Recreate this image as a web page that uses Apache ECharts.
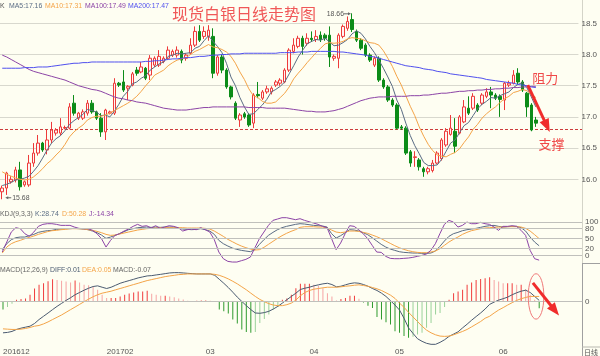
<!DOCTYPE html>
<html><head><meta charset="utf-8">
<script src="https://cdn.jsdelivr.net/npm/echarts@6/dist/echarts.min.js"></script>
<style>html,body{margin:0;padding:0;background:#fefef2;}#c{width:600px;height:356px;}</style>
</head><body><div id="c"></div>
<script>
// ---------- data ----------
const opens = [
15.80,15.86,15.96,15.99,16.15,15.91,15.91,16.26,16.42,16.58,
16.47,16.63,16.74,16.74,16.82,16.82,17.22,16.98,16.98,17.06,
17.22,17.08,16.98,16.76,17.06,17.06,17.54,17.56,17.46,17.51,
17.75,17.72,17.78,17.67,17.83,17.83,17.89,17.94,17.99,17.99,
18.05,17.94,18.02,18.15,18.37,18.29,18.29,18.29,17.70,17.96,
17.75,17.48,17.22,16.95,17.05,17.03,16.90,17.36,17.30,17.40,
17.40,17.51,17.54,17.56,17.75,18.05,18.13,18.26,18.18,18.26,
18.24,18.31,18.31,18.31,17.94,17.94,18.29,18.42,18.56,18.37,
18.23,18.15,17.99,17.83,17.94,17.59,17.48,17.27,17.19,16.84,
16.82,16.44,16.35,16.31,16.17,16.12,16.14,16.26,16.33,16.55,
16.72,16.77,16.74,16.92,17.14,17.14,17.19,17.22,17.33,17.40,
17.35,17.33,17.27,17.51,17.54,17.70,17.56,17.38,17.19,16.95];
const closes = [
15.86,16.10,16.00,16.15,15.88,15.96,16.26,16.42,16.58,16.47,
16.63,16.79,16.79,16.84,16.83,17.16,17.06,17.06,17.08,17.22,
17.08,16.98,16.76,17.11,17.08,17.54,17.51,17.43,17.49,17.69,
17.70,17.80,17.62,17.94,17.94,17.97,17.94,18.07,18.05,18.07,
17.91,17.99,18.15,18.37,18.23,18.37,18.39,17.70,17.96,17.75,
17.48,17.32,16.98,17.03,17.00,16.87,17.35,17.34,17.40,17.45,
17.46,17.56,17.59,17.75,18.07,18.15,18.26,18.13,18.26,18.24,
18.29,18.24,18.26,17.96,17.97,18.31,18.45,18.53,18.40,18.23,
18.10,17.99,17.91,17.94,17.59,17.48,17.27,17.19,16.82,16.82,
16.42,16.26,16.36,16.20,16.12,16.17,16.26,16.42,16.63,16.77,
16.82,16.53,17.00,17.16,17.06,17.33,17.11,17.35,17.40,17.35,
17.30,17.28,17.54,17.54,17.67,17.56,17.43,17.16,16.79,16.90];
const lows = [
15.68,15.75,15.93,15.95,15.82,15.88,15.88,16.20,16.38,16.44,
16.40,16.58,16.70,16.70,16.80,16.80,17.02,16.95,16.95,17.02,
17.05,16.95,16.68,16.63,17.04,17.03,17.48,17.40,17.27,17.49,
17.66,17.70,17.59,17.59,17.80,17.80,17.86,17.92,17.96,17.95,
17.86,17.90,18.00,18.12,18.20,18.25,18.22,17.62,17.66,17.70,
17.45,17.28,16.95,16.84,16.97,16.84,16.82,17.30,17.27,17.37,
17.36,17.48,17.50,17.54,17.72,18.02,18.10,18.00,18.14,18.20,
18.20,18.20,18.22,17.80,17.90,17.78,18.26,18.38,18.36,18.20,
18.07,17.96,17.88,17.80,17.56,17.45,17.24,17.16,16.80,16.79,
16.39,16.20,16.20,16.14,16.04,16.08,16.11,16.24,16.30,16.52,
16.70,16.42,16.72,16.90,17.03,17.11,17.08,17.19,17.30,17.14,
17.27,17.00,17.11,17.48,17.52,17.52,17.40,17.00,16.77,16.84];
const highs = [
15.90,16.12,16.05,16.20,16.28,15.98,16.39,16.58,16.71,16.60,
16.79,16.92,16.82,16.98,16.86,17.22,17.35,17.08,17.12,17.27,
17.27,17.10,17.06,17.13,17.10,17.62,17.56,17.75,17.51,17.72,
17.80,17.88,17.80,17.99,17.97,18.07,17.97,18.13,18.08,18.13,
18.08,18.02,18.26,18.45,18.47,18.45,18.47,18.42,17.99,18.00,
17.78,17.50,17.25,17.06,17.08,17.06,17.38,17.56,17.43,17.50,
17.49,17.59,17.62,17.78,18.10,18.26,18.30,18.30,18.34,18.37,
18.39,18.37,18.34,18.45,18.00,18.34,18.48,18.61,18.66,18.40,
18.26,18.18,18.02,17.97,17.97,17.62,17.51,17.30,17.22,16.87,
16.85,16.47,16.45,16.34,16.20,16.20,16.31,16.45,16.66,16.82,
17.03,16.98,17.03,17.27,17.33,17.38,17.22,17.38,17.46,17.48,
17.38,17.36,17.56,17.58,17.75,17.78,17.59,17.40,17.22,17.00];
const ma5 = [
15.90,15.92,15.95,15.99,16.00,16.02,16.05,16.13,16.22,16.34,
16.47,16.58,16.65,16.70,16.78,16.88,16.94,16.99,17.04,17.12,
17.10,17.08,17.02,17.03,17.00,17.09,17.20,17.33,17.41,17.53,
17.56,17.62,17.66,17.75,17.80,17.85,17.88,17.97,17.99,18.02,
18.01,18.02,18.03,18.10,18.13,18.22,18.30,18.21,18.13,18.03,
17.86,17.64,17.50,17.31,17.16,17.04,17.05,17.12,17.19,17.28,
17.40,17.44,17.49,17.56,17.69,17.82,17.96,18.07,18.17,18.21,
18.24,18.23,18.26,18.20,18.14,18.15,18.19,18.24,18.33,18.38,
18.34,18.25,18.13,18.03,17.91,17.78,17.64,17.49,17.27,17.12,
16.90,16.70,16.54,16.41,16.27,16.22,16.22,16.23,16.32,16.45,
16.58,16.63,16.75,16.86,16.91,17.02,17.13,17.20,17.25,17.31,
17.30,17.34,17.37,17.40,17.47,17.52,17.55,17.47,17.32,17.16];
const ma10 = [
16.12,16.08,16.05,16.02,16.00,15.99,16.00,16.04,16.10,16.17,
16.25,16.31,16.39,16.46,16.56,16.68,16.76,16.82,16.87,16.95,
16.99,17.01,17.01,17.03,17.06,17.10,17.14,17.18,17.22,17.27,
17.33,17.41,17.50,17.58,17.67,17.71,17.75,17.82,17.87,17.91,
17.93,17.95,18.00,18.05,18.08,18.12,18.16,18.12,18.11,18.08,
18.04,17.97,17.86,17.72,17.60,17.45,17.34,17.31,17.25,17.22,
17.22,17.24,17.31,17.38,17.48,17.61,17.70,17.78,17.87,17.95,
18.03,18.10,18.17,18.19,18.18,18.19,18.21,18.25,18.27,18.26,
18.25,18.22,18.19,18.18,18.15,18.06,17.94,17.81,17.65,17.51,
17.34,17.17,17.02,16.84,16.69,16.56,16.46,16.39,16.37,16.36,
16.40,16.43,16.49,16.59,16.68,16.80,16.88,16.98,17.05,17.11,
17.16,17.23,17.29,17.33,17.39,17.41,17.44,17.42,17.36,17.31];
const ma100 = [
17.99,17.96,17.92,17.88,17.84,17.80,17.76,17.73,17.71,17.69,
17.67,17.65,17.63,17.61,17.59,17.56,17.53,17.50,17.48,17.46,
17.44,17.43,17.41,17.38,17.35,17.32,17.30,17.29,17.27,17.26,
17.24,17.23,17.22,17.20,17.18,17.16,17.14,17.13,17.12,17.11,
17.11,17.11,17.12,17.13,17.14,17.15,17.15,17.16,17.16,17.16,
17.16,17.16,17.16,17.16,17.16,17.15,17.15,17.15,17.15,17.14,
17.14,17.14,17.14,17.14,17.13,17.12,17.11,17.10,17.09,17.09,
17.08,17.08,17.08,17.09,17.10,17.12,17.14,17.17,17.20,17.23,
17.26,17.28,17.30,17.31,17.32,17.32,17.32,17.33,17.33,17.33,
17.33,17.34,17.34,17.34,17.35,17.35,17.36,17.37,17.38,17.38,
17.39,17.40,17.41,17.41,17.42,17.42,17.43,17.43,17.44,17.44,
17.45,17.45,17.46,17.46,17.47,17.47,17.48,17.48,17.49,17.49];
const ma200 = [
17.78,17.78,17.78,17.78,17.78,17.79,17.79,17.79,17.80,17.80,
17.80,17.81,17.82,17.83,17.84,17.85,17.86,17.86,17.87,17.87,
17.88,17.88,17.88,17.88,17.88,17.88,17.88,17.88,17.88,17.88,
17.88,17.88,17.89,17.89,17.90,17.90,17.91,17.92,17.93,17.93,
17.94,17.95,17.95,17.96,17.97,17.97,17.98,17.99,17.99,18.00,
18.00,18.01,18.01,18.01,18.02,18.02,18.02,18.02,18.02,18.02,
18.02,18.02,18.03,18.03,18.03,18.03,18.04,18.04,18.04,18.05,
18.05,18.05,18.05,18.05,18.05,18.04,18.04,18.03,18.02,18.01,
18.00,17.99,17.97,17.96,17.94,17.92,17.90,17.88,17.86,17.84,
17.82,17.81,17.80,17.79,17.77,17.76,17.75,17.73,17.72,17.71,
17.69,17.68,17.67,17.66,17.65,17.64,17.63,17.62,17.60,17.59,
17.58,17.57,17.56,17.55,17.54,17.52,17.51,17.50,17.48,17.47];
const kdjK = [
17,35,47,53,55,55,59,63,69,72,
74,75,78,79,80,80,81,80,79,77,
73,68,61,51,55,60,65,71,77,80,
83,84,85,84,85,84,85,85,85,82,
79,78,77,78,80,77,73,63,45,35,
28,22,18,15,13,11,17,33,47,60,
69,77,83,87,90,93,95,94,92,90,
89,88,85,65,52,59,68,77,76,73,
68,62,53,43,33,25,19,15,11,9,
8,7,7,6,6,7,13,27,43,57,
65,69,74,77,79,81,84,87,89,90,
87,85,86,87,87,83,73,55,40,28.74];
const kdjD = [
7,25,35,41,45,50,54,58,63,67,
71,74,75,77,78,80,80,80,79,77,
75,72,68,63,60,61,64,67,70,73,
76,78,80,81,82,83,83,83,83,83,
83,82,82,82,82,81,79,73,65,57,
48,41,34,28,23,19,16,17,24,33,
42,51,59,66,72,77,84,86,86,86,
85,85,82,76,70,68,70,73,73,72,
69,66,61,56,50,43,36,29,23,18,
14,11,9,8,8,10,13,20,30,40,
48,55,63,69,74,77,80,82,83,84,
85,85,86,86,86,85,81,73,62,50.28];
const kdjJ = [
10,40,70,83,80,65,57,70,87,93,
95,95,93,90,90,90,85,81,80,80,
75,65,50,25,45,60,65,73,79,87,
93,87,89,82,89,81,85,89,87,83,
73,77,79,77,83,77,70,47,10,-10,
-18,-20,-20,-16,-12,-5,23,50,70,90,
105,109,113,113,110,107,110,105,101,97,
93,87,83,50,17,37,65,89,87,77,
65,50,30,10,9,-3,-9,-10,-10,-9,
-8,-6,-3,0,4,15,35,65,93,105,
100,85,90,100,95,95,99,95,93,85,
75,87,87,89,87,75,60,15,-10,-14.34];
const diff = [
-0.317,-0.313,-0.303,-0.283,-0.270,-0.260,-0.250,-0.223,-0.183,-0.150,
-0.117,-0.083,-0.050,-0.020,0.010,0.037,0.067,0.090,0.113,0.133,
0.150,0.157,0.143,0.130,0.143,0.163,0.183,0.197,0.210,0.223,
0.237,0.247,0.257,0.260,0.267,0.273,0.280,0.287,0.290,0.290,
0.287,0.283,0.280,0.277,0.277,0.277,0.277,0.263,0.223,0.183,
0.140,0.093,0.043,0.000,-0.043,-0.083,-0.117,-0.120,-0.113,-0.100,
-0.077,-0.050,-0.017,0.017,0.050,0.083,0.120,0.133,0.143,0.157,
0.167,0.177,0.183,0.170,0.147,0.153,0.167,0.180,0.187,0.183,
0.170,0.153,0.130,0.110,0.083,0.050,0.007,-0.037,-0.087,-0.170,
-0.267,-0.323,-0.377,-0.403,-0.423,-0.433,-0.433,-0.413,-0.387,-0.353,
-0.330,-0.307,-0.267,-0.230,-0.190,-0.153,-0.117,-0.077,-0.030,-0.007,
0.013,0.027,0.043,0.067,0.087,0.103,0.113,0.090,0.050,0.01];
const dea = [
-0.277,-0.280,-0.283,-0.283,-0.280,-0.273,-0.263,-0.250,-0.243,-0.227,
-0.207,-0.183,-0.160,-0.137,-0.110,-0.083,-0.057,-0.030,-0.003,0.023,
0.047,0.067,0.083,0.093,0.103,0.117,0.130,0.143,0.157,0.170,
0.183,0.197,0.210,0.220,0.230,0.240,0.250,0.257,0.263,0.270,
0.273,0.277,0.277,0.277,0.277,0.277,0.277,0.273,0.263,0.247,
0.227,0.203,0.177,0.147,0.117,0.083,0.050,0.020,-0.003,-0.023,
-0.037,-0.043,-0.043,-0.033,-0.017,0.013,0.057,0.090,0.110,0.123,
0.130,0.137,0.143,0.143,0.143,0.147,0.153,0.157,0.163,0.167,
0.160,0.153,0.140,0.127,0.110,0.087,0.063,0.030,-0.017,-0.060,
-0.110,-0.157,-0.203,-0.250,-0.290,-0.317,-0.337,-0.350,-0.353,-0.350,
-0.337,-0.320,-0.303,-0.283,-0.257,-0.230,-0.203,-0.170,-0.150,-0.117,
-0.087,-0.063,-0.037,-0.013,0.010,0.027,0.040,0.050,0.050,0.05];
const macdHist = [
-0.083,-0.057,-0.023,0.017,0.023,0.030,0.067,0.130,0.167,0.183,
0.203,0.223,0.217,0.207,0.200,0.190,0.210,0.190,0.167,0.163,
0.150,0.117,0.067,0.033,0.033,0.033,0.050,0.067,0.080,0.090,
0.100,0.100,0.107,0.077,0.067,0.057,0.057,0.050,0.043,0.030,
0.020,0.007,-0.003,0.007,0.010,0.010,0.007,-0.003,-0.083,-0.100,
-0.123,-0.183,-0.223,-0.283,-0.310,-0.317,-0.310,-0.217,-0.177,-0.133,
-0.083,-0.057,0.017,0.030,0.067,0.133,0.177,0.177,0.177,0.167,
0.157,0.133,0.083,0.050,0.010,0.023,0.033,0.057,0.057,0.027,
-0.010,-0.043,-0.067,-0.157,-0.183,-0.210,-0.233,-0.300,-0.317,-0.350,
-0.367,-0.357,-0.333,-0.317,-0.267,-0.217,-0.133,-0.117,-0.057,0.017,
0.083,0.100,0.117,0.167,0.190,0.217,0.227,0.233,0.243,0.217,
0.200,0.183,0.183,0.183,0.167,0.167,0.123,0.067,0.017,-0.07];
const monthTickIndex = [0, 26, 46, 69, 88, 111];
const monthTickLabel = ['201612', '201702', '03', '04', '05', '06'];
const priceTicks = [16.0, 16.5, 17.0, 17.5, 18.0, 18.5];
const kdjLevels = [0, 20, 50, 80, 100];
const supportLevel = 16.80;
const slotCount = 129;

// ---------- build ----------
const N = opens.length;
const cats = []; for (let i = 0; i < slotCount; i++) cats.push('d' + i);
const tickMap = {}; monthTickIndex.forEach((ix, k) => tickMap[ix] = monthTickLabel[k]);
const candle = opens.map((o, i) => [o, closes[i], lows[i], highs[i]]);
const C_MA5 = '#5a6c84', C_MA10 = '#f4a448', C_MA100 = '#8c44a6', C_MA200 = '#5050ee';
const histData = macdHist.map((v, i) => {
  const p = i > 0 ? macdHist[i - 1] : 0;
  const grow = Math.abs(v) >= Math.abs(p) || (v * p < 0);
  const col = v >= 0 ? (grow ? '#f03c3c' : '#f6a4a4') : (grow ? '#2e9a2e' : '#9ad29a');
  return { value: v, itemStyle: { color: col } };
});
const FONT = 'Liberation Sans';
const chart = echarts.init(document.getElementById('c'), null, { renderer: 'canvas', width: 600, height: 356 });
function lineS(name, data, color, ax) {
  return { name, type: 'line', data, xAxisIndex: ax, yAxisIndex: ax, symbol: 'none', showSymbol: false,
    lineStyle: { color, width: 1 }, itemStyle: { color }, silent: true, z: 3 };
}
const xAx = (g, show) => ({
  type: 'category', gridIndex: g, data: cats, boundaryGap: true, show: show,
  axisLine: { show: show, lineStyle: { color: '#b8b8b0' } }, axisTick: { show: false }, splitLine: { show: false },
  axisLabel: show ? { interval: 0, fontSize: 8, color: '#555', margin: 2, fontFamily: FONT, alignMinLabel: 'left',
    formatter: (v, idx) => tickMap[idx] || '' } : { show: false }
});
chart.setOption({
  animation: false,
  backgroundColor: '#fefef2',
  textStyle: { fontFamily: FONT },
  grid: [
    { left: 0, right: 18, top: 7.7, height: 202.8 },
    { left: 0, right: 18, top: 213.7, height: 50 },
    { left: 0, right: 18, top: 266.7, height: 80 }
  ],
  xAxis: [xAx(0, false), xAx(1, false), xAx(2, true)],
  yAxis: [
    { type: 'value', gridIndex: 0, position: 'right', min: 15.5, max: 18.75, interval: 0.5, scale: true,
      axisLine: { show: false }, axisTick: { show: false },
      axisLabel: { fontSize: 8, color: '#555', margin: 3, fontFamily: FONT,
        formatter: v => priceTicks.some(t => Math.abs(t - v) < 1e-6) ? v.toFixed(1) : '' },
      splitLine: { show: true, showMinLine: false, showMaxLine: false, lineStyle: { color: '#d8d8ce', width: 1 } } },
    { type: 'value', gridIndex: 1, min: -25, max: 125, show: false, splitLine: { show: false } },
    { type: 'value', gridIndex: 2, min: -0.45, max: 0.35, show: false, splitLine: { show: false } }
  ],
  series: [
    { name: 'K', type: 'candlestick', xAxisIndex: 0, yAxisIndex: 0, data: candle, barWidth: 3,
      itemStyle: { color: '#fff4f2', color0: '#0c8c18', borderColor: '#ee3a3a', borderColor0: '#0c8c18', borderWidth: 1 }, z: 2 },
    lineS('MA5', ma5, C_MA5, 0),
    lineS('MA10', ma10, C_MA10, 0),
    lineS('MA100', ma100, C_MA100, 0),
    lineS('MA200', ma200, C_MA200, 0),
    Object.assign(lineS('Kl', kdjK, C_MA5, 1), {
      markLine: { silent: true, symbol: ['none', 'none'], lineStyle: { color: '#c0c0bc', type: 'solid', width: 1 },
        label: { show: true, position: 'end', distance: 3, fontSize: 8, color: '#555', fontFamily: FONT, formatter: p => String(p.value) },
        data: kdjLevels.map(v => ({ yAxis: v })) } }),
    lineS('Dl', kdjD, C_MA10, 1),
    lineS('Jl', kdjJ, C_MA100, 1),
    { name: 'MACD', type: 'bar', xAxisIndex: 2, yAxisIndex: 2, data: histData, barWidth: 1, silent: true, z: 2,
      markLine: { silent: true, symbol: ['none', 'none'], lineStyle: { color: '#c0c0bc', type: 'solid', width: 1 },
        label: { show: true, position: 'end', distance: 3, fontSize: 8, color: '#555', fontFamily: FONT, formatter: '0' },
        data: [{ yAxis: 0 }] } },
    lineS('DIFF', diff, '#4a5a70', 2),
    lineS('DEA', dea, C_MA10, 2)
  ]
});

// ---------- annotations ----------
function px(ax, i, v) {
  const a = chart.convertToPixel({ xAxisIndex: ax, yAxisIndex: ax }, [0, v]);
  const b = chart.convertToPixel({ xAxisIndex: ax, yAxisIndex: ax }, [1, v]);
  return [a[0] + (b[0] - a[0]) * i, a[1]];
}
function arrow(p0, p1, color, w, hl, hw) {
  const dx = p1[0] - p0[0], dy = p1[1] - p0[1], L = Math.hypot(dx, dy);
  const ux = dx / L, uy = dy / L, nx = -uy, ny = ux;
  const bx = p1[0] - ux * hl, by = p1[1] - uy * hl;
  return [
    { type: 'line', silent: true, z: 50, shape: { x1: p0[0], y1: p0[1], x2: bx + ux, y2: by + uy }, style: { stroke: color, lineWidth: w } },
    { type: 'polygon', silent: true, z: 50, shape: { points: [[p1[0], p1[1]], [bx + nx * hw / 2, by + ny * hw / 2], [bx - nx * hw / 2, by - ny * hw / 2]] }, style: { fill: color } }
  ];
}
function txt(x, y, s, color, size, align, family, sx) {
  return { type: 'text', silent: true, z: 60, x, y, scaleX: sx || 1,
    style: { text: s, fill: color, font: size + 'px "' + (family || FONT) + '"', align: align || 'left', verticalAlign: 'middle',
      textAlign: align || 'left', textVerticalAlign: 'middle' } };
}
const g = [];
// support level dashed line, placed from the value axis
const ySup = Math.round(px(0, 0, supportLevel)[1]) + 0.5;
g.push({ type: 'line', silent: true, z: 1, shape: { x1: 0, y1: ySup, x2: 582, y2: ySup },
  style: { stroke: '#cc3c3c', lineWidth: 1, lineDash: [3, 2] } });
g.push({ type: 'line', silent: true, shape: { x1: 582.5, y1: 0, x2: 582.5, y2: 263 }, style: { stroke: '#d4d4c8', lineWidth: 1 } });
g.push({ type: 'line', silent: true, shape: { x1: 582.5, y1: 263, x2: 582.5, y2: 356 }, style: { stroke: '#a0a0a0', lineWidth: 1 } });
g.push({ type: 'line', silent: true, shape: { x1: 582, y1: 263.5, x2: 600, y2: 263.5 }, style: { stroke: '#a0a0a0', lineWidth: 1 } });
g.push({ type: 'line', silent: true, shape: { x1: 582, y1: 347, x2: 600, y2: 347 }, style: { stroke: '#b8b8b0', lineWidth: 1 } });
const f2 = v => v.toFixed(2);
const L = N - 1;
const SX = 0.86;
g.push(txt(0, 5.5, 'K', '#555', 8, 'left', FONT, SX));
g.push(txt(9, 5.5, 'MA5:' + f2(ma5[L]), C_MA5, 8, 'left', FONT, SX));
g.push(txt(45, 5.5, 'MA10:' + f2(ma10[L]), C_MA10, 8, 'left', FONT, SX));
g.push(txt(85, 5.5, 'MA100:' + f2(ma100[L]), C_MA100, 8, 'left', FONT, SX));
g.push(txt(128, 5.5, 'MA200:' + f2(ma200[L]), C_MA200, 8, 'left', FONT, SX));
g.push(txt(0, 213.5, 'KDJ(9,3,3)', '#666', 8, 'left', FONT, SX));
g.push(txt(35, 213.5, 'K:' + f2(kdjK[L]), C_MA5, 8, 'left', FONT, SX));
g.push(txt(62, 213.5, 'D:' + f2(kdjD[L]), C_MA10, 8, 'left', FONT, SX));
g.push(txt(89, 213.5, 'J:' + f2(kdjJ[L]), C_MA100, 8, 'left', FONT, SX));
g.push(txt(0, 269.5, 'MACD(12,26,9)', '#666', 8, 'left', FONT, SX));
g.push(txt(50, 269.5, 'DIFF:' + f2(diff[L]), '#4a5a70', 8, 'left', FONT, SX));
g.push(txt(82, 269.5, 'DEA:' + f2(dea[L]), C_MA10, 8, 'left', FONT, SX));
g.push(txt(113, 269.5, 'MACD:' + f2(macdHist[L]), '#666', 8, 'left', FONT, SX));
g.push(txt(584, 352, '日线', '#555', 7, 'left', 'Noto Sans CJK SC'));
g.push(txt(172, 14, '现货白银日线走势图', '#f05858', 16, 'left', 'Noto Sans CJK SC'));
let iH = 0, iL = 0;
highs.forEach((v, i) => { if (v > highs[iH]) iH = i; });
lows.forEach((v, i) => { if (v < lows[iL]) iL = i; });
const pH = px(0, iH, highs[iH]);
g.push(txt(pH[0] - 8, pH[1] + 0.5, highs[iH].toFixed(2), '#555', 8, 'right', FONT, SX));
g.push(...arrow([pH[0] - 8, pH[1] + 0.5], [pH[0] - 1, pH[1] + 0.5], '#666', 1, 3, 3));
const pL = px(0, iL, lows[iL]);
g.push(txt(pL[0] + 10, pL[1] - 1.5, lows[iL].toFixed(2), '#555', 8, 'left', FONT, SX));
g.push(...arrow([pL[0] + 9, pL[1] - 1.5], [pL[0] + 3, pL[1] - 1.5], '#666', 1, 3, 3));
const RED = '#f02c2c';
g.push(...arrow(px(0, 117.2, 17.51), px(0, 122.1, 16.76), RED, 3, 13, 10));
g.push(...arrow(px(2, 117.6, 0.187), px(2, 123.4, -0.143), RED, 3, 13, 10));
const pe = px(2, 118.3, 0.05);
g.push({ type: 'ellipse', silent: true, z: 49, shape: { cx: pe[0], cy: pe[1], rx: 7.8, ry: 22.7 }, style: { fill: 'none', stroke: '#f07878', lineWidth: 1 } });
const pR = px(0, 121.1, 17.63), pS = px(0, 122.5, 16.565);
g.push(txt(pR[0], pR[1], '阻力', '#f04848', 13, 'center', 'Noto Sans CJK SC'));
g.push(txt(pS[0], pS[1], '支撑', '#f04848', 13, 'center', 'Noto Sans CJK SC'));
chart.setOption({ graphic: { elements: g } });
</script></body></html>
